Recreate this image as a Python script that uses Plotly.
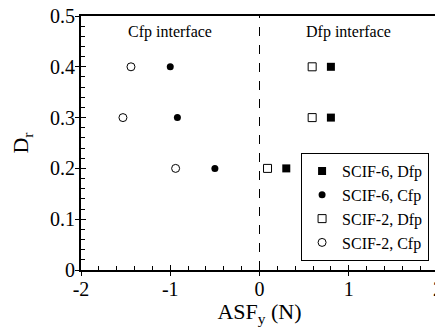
import plotly.graph_objects as go

dr = [0.4, 0.3, 0.2]
scif6_dfp = [0.80, 0.80, 0.30]
scif6_cfp = [-1.00, -0.92, -0.50]
scif2_dfp = [0.59, 0.59, 0.09]
scif2_cfp = [-1.44, -1.53, -0.94]

FONT = "Liberation Serif"

fig = go.Figure()
fig.add_trace(go.Scatter(x=scif6_dfp, y=dr, mode="markers", name="SCIF-6, Dfp",
                         marker=dict(symbol="square", size=8, color="black")))
fig.add_trace(go.Scatter(x=scif6_cfp, y=dr, mode="markers", name="SCIF-6, Cfp",
                         marker=dict(symbol="circle", size=7, color="black")))
fig.add_trace(go.Scatter(x=scif2_dfp, y=dr, mode="markers", name="SCIF-2, Dfp",
                         marker=dict(symbol="square-open", size=8, color="black", line=dict(width=1))))
fig.add_trace(go.Scatter(x=scif2_cfp, y=dr, mode="markers", name="SCIF-2, Cfp",
                         marker=dict(symbol="circle-open", size=8, color="black", line=dict(width=1))))
# helper trace for overlay axes (outside half of major ticks)
fig.add_trace(go.Scatter(x=[None], y=[None], xaxis="x2", yaxis="y2", showlegend=False, hoverinfo="skip"))

fig.add_vline(x=0, line=dict(color="black", width=1, dash="dash"))

fig.add_annotation(x=-1.0, y=0.468, text="Cfp interface", showarrow=False,
                   font=dict(family=FONT, size=16, color="black"))
fig.add_annotation(x=1.0, y=0.468, text="Dfp interface", showarrow=False,
                   font=dict(family=FONT, size=16, color="black"))

tickfont = dict(family=FONT, size=20, color="black")

# page body has an 8px default margin, so the figure is sized to fit the window
fig.update_layout(
    width=435, height=319,
    margin=dict(l=73, r=5, t=8, b=57, autoexpand=False),
    paper_bgcolor="white", plot_bgcolor="white",
    font=dict(family=FONT, size=20, color="black"),
    showlegend=True,
    legend=dict(x=0.975, y=0.035, xanchor="right", yanchor="bottom",
                bordercolor="black", borderwidth=1, bgcolor="white",
                font=dict(family=FONT, size=16, color="black"),
                tracegroupgap=0, itemwidth=30),
    xaxis=dict(range=[-2, 2], tickvals=[-2, -1, 0, 1, 2], ticktext=["-2", "-1", "0", "1", "2"],
               tickfont=tickfont, automargin=False, ticklabeloverflow="allow",
               ticks="inside", ticklen=5, tickwidth=1, tickcolor="black",
               minor=dict(dtick=0.2, ticks="inside", ticklen=4, tickwidth=1, tickcolor="black"),
               showline=True, linecolor="black", linewidth=2, mirror=True,
               showgrid=False, zeroline=False,
               title=dict(text="ASF<sub>y</sub> (N)", standoff=6, font=dict(family=FONT, size=22))),
    yaxis=dict(range=[0, 0.5], tickvals=[0, 0.1, 0.2, 0.3, 0.4, 0.5],
               ticktext=["0", "0.1", "0.2", "0.3", "0.4", "0.5"],
               tickfont=tickfont, automargin=False, ticklabeloverflow="allow",
               ticks="inside", ticklen=5, tickwidth=1, tickcolor="black",
               minor=dict(dtick=0.02, ticks="inside", ticklen=4, tickwidth=1, tickcolor="black"),
               showline=True, linecolor="black", linewidth=2, mirror=True,
               showgrid=False, zeroline=False,
               title=dict(text="D<sub>r</sub>", standoff=26, font=dict(family=FONT, size=22))),
    xaxis2=dict(range=[-2, 2], overlaying="x", anchor="y", side="bottom", automargin=False,
                tickvals=[-2, -1, 0, 1, 2], ticks="outside", ticklen=5, tickwidth=1,
                tickcolor="black", showticklabels=False, showgrid=False, zeroline=False,
                showline=False),
    yaxis2=dict(range=[0, 0.5], overlaying="y", anchor="x", side="left", automargin=False,
                tickvals=[0, 0.1, 0.2, 0.3, 0.4, 0.5], ticks="outside", ticklen=5, tickwidth=1,
                tickcolor="black", showticklabels=False, showgrid=False, zeroline=False,
                showline=False),
)

fig.write_html("out.html")
